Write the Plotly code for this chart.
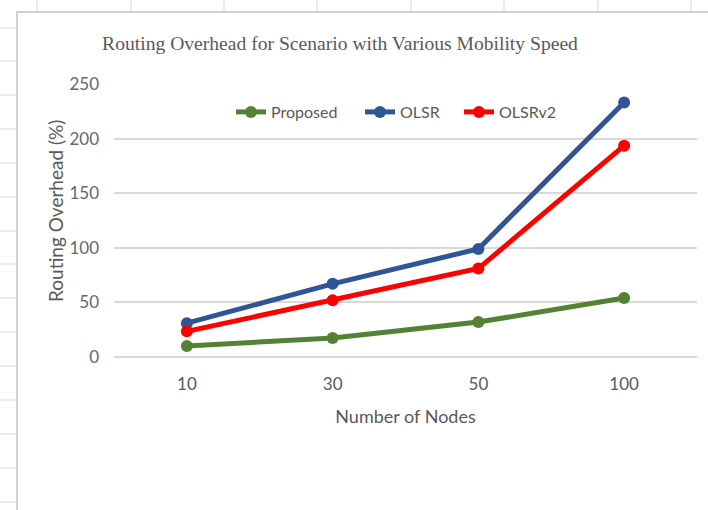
import plotly.graph_objects as go

# Routing overhead by network size
nodes = ["10", "30", "50", "100"]
proposed = [10, 17.5, 32, 54]
olsr = [31, 67, 99, 233]
olsrv2 = [23.5, 52, 81, 193.5]

series_names = ["Proposed", "OLSR", "OLSRv2"]
series_colors = ["#548235", "#2F5597", "#FF0000"]

W, H = 708, 510
L, R, T, B = 114, 697, 84, 357  # plot area in pixels


def px(x):
    return (x - L) / (R - L)


def py(y):
    return (B - y) / (B - T)


fig = go.Figure()
xs = list(range(len(nodes)))
legend_ids = ["legend", "legend2", "legend3"]
for name, vals, col, lg in zip(series_names, [proposed, olsr, olsrv2],
                               series_colors, legend_ids):
    fig.add_trace(go.Scatter(
        x=xs, y=vals, name=name, mode="lines+markers",
        line=dict(color=col, width=5),
        marker=dict(color=col, size=12),
        legend=lg,
    ))

shapes = []
grid_col = "#d9d9d9"
# worksheet cell lines around the chart object
for gx in [37, 131, 224, 317, 411, 504, 598, 691]:
    shapes.append(dict(type="line", xref="paper", yref="paper",
                       x0=px(gx), x1=px(gx), y0=py(0), y1=py(11),
                       line=dict(color=grid_col, width=1)))
for gy in [28, 61, 95, 129, 163, 197, 231, 264, 298, 332, 366, 400, 434, 468, 502]:
    shapes.append(dict(type="line", xref="paper", yref="paper",
                       x0=px(0), x1=px(16), y0=py(gy), y1=py(gy),
                       line=dict(color=grid_col, width=1)))
# chart frame
shapes.append(dict(type="line", xref="paper", yref="paper",
                   x0=px(17), x1=px(17), y0=py(12), y1=py(H + 5),
                   line=dict(color="#d0d0d0", width=2)))
shapes.append(dict(type="line", xref="paper", yref="paper",
                   x0=px(16), x1=px(W + 5), y0=py(12), y1=py(12),
                   line=dict(color="#d0d0d0", width=2)))

legend_font = dict(family="Lato", size=16, color="#595959")


def legend_at(xpix):
    return dict(orientation="h", x=px(xpix), xanchor="left",
                y=py(112), yanchor="middle", font=legend_font,
                bgcolor="rgba(0,0,0,0)", itemwidth=30)


fig.update_layout(
    width=W, height=H,
    margin=dict(l=L, r=W - R, t=T, b=H - B, autoexpand=False),
    paper_bgcolor="white", plot_bgcolor="white",
    shapes=shapes,
    title=dict(
        text="Routing Overhead for Scenario with Various Mobility Speed",
        font=dict(family="Liberation Serif", size=19.6, color="#595959"),
        x=px(340), xanchor="center", xref="paper",
        y=1 - 43 / H, yanchor="middle",
    ),
    xaxis=dict(
        tickmode="array", tickvals=xs, ticktext=nodes,
        range=[-0.5, len(nodes) - 0.5],
        showgrid=False, zeroline=False, showline=False, ticks="",
        ticklabelstandoff=15,
        tickfont=dict(family="Lato", size=17, color="#595959"),
        title=dict(text="Number of Nodes", standoff=17,
                   font=dict(family="Lato", size=18, color="#595959")),
    ),
    yaxis=dict(
        range=[0, 250], tickvals=[0, 50, 100, 150, 200, 250],
        showgrid=True, gridcolor=grid_col, gridwidth=2,
        zeroline=True, zerolinecolor=grid_col, zerolinewidth=2,
        showline=False, ticks="", ticklabelstandoff=14,
        tickfont=dict(family="Lato", size=17, color="#666666"),
    ),
    annotations=[dict(
        text="Routing Overhead (%)", textangle=-90,
        xref="paper", yref="paper", x=px(55), y=py(211),
        xanchor="center", yanchor="middle", showarrow=False,
        font=dict(family="Lato", size=19, color="#595959"),
    )],
    legend=legend_at(231),
    legend2=legend_at(360),
    legend3=legend_at(459),
    showlegend=True,
)

fig.write_html("out.html")
